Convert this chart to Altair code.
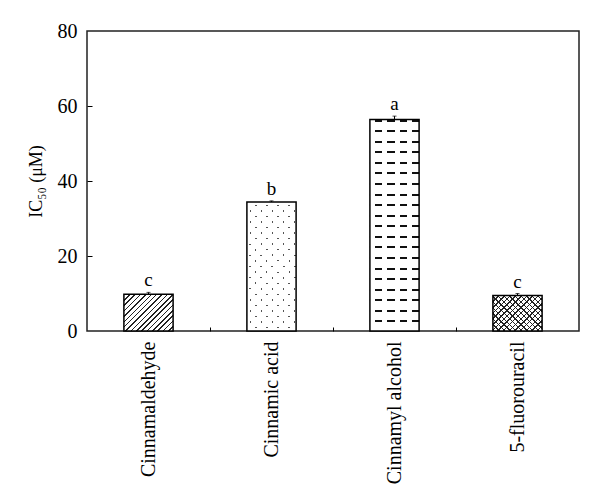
import math
import altair as alt
import pandas as pd

# ---- data ----
names = ["Cinnamaldehyde", "Cinnamic acid", "Cinnamyl alcohol", "5-fluorouracil"]
values = [9.8, 34.4, 56.4, 9.5]
errors = [0.5, 0.3, 0.9, 0.5]
letters = ["c", "b", "a", "c"]
y_ticks = [0, 20, 40, 60, 80]

df = pd.DataFrame({"name": names, "value": values, "err": errors, "letter": letters})
df["top"] = df["value"] + df["err"]

# ---- layout / style ----
PLOT_W, PLOT_H = 492, 300
Y_MAX = 80
PAD_IN, PAD_OUT = 0.6, 0.3
STEP = PLOT_W / (len(names) - PAD_IN + 2 * PAD_OUT)
BAR_W = STEP * (1 - PAD_IN)
PX = PLOT_H / Y_MAX
FONT = "Liberation Serif"
CLEAR = "rgba(255,255,255,0)"


def stripe_stops(n, frac, on, off):
    s = []
    for i in range(n):
        a, b, c = i / n, (i + frac) / n, (i + 1) / n
        s += [alt.GradientStop(offset=round(a, 5), color=on),
              alt.GradientStop(offset=round(b, 5), color=on),
              alt.GradientStop(offset=round(b, 5), color=off),
              alt.GradientStop(offset=round(c, 5), color=off)]
    return s


def diagonal(w, h, spacing, thick, on, off, rising=True):
    c = (w + h) / (w * w + h * h)
    n = max(1, round((w + h) / math.sqrt(2) / spacing))
    st = stripe_stops(n, thick / spacing, on, off)
    if rising:
        return alt.LinearGradient(gradient="linear", stops=st, x1=0, y1=0, x2=c * w, y2=c * h)
    return alt.LinearGradient(gradient="linear", stops=st, x1=0, y1=1, x2=c * w, y2=1 - c * h)


def horizontal(h, spacing, thick, on, off):
    n = max(1, round(h / spacing))
    return alt.LinearGradient(gradient="linear", stops=stripe_stops(n, thick * n / h, on, off),
                              x1=0, y1=0, x2=0, y2=1)


def vertical(w, spacing, thick, on, off):
    n = max(1, round(w / spacing))
    return alt.LinearGradient(gradient="linear", stops=stripe_stops(n, thick * n / w, on, off),
                              x1=0, y1=0, x2=1, y2=0)


hs = [v * PX for v in values]
fills = {
    names[0]: [diagonal(BAR_W, hs[0], 3.9, 1.1, "#222", "white", True)],
    names[1]: [diagonal(BAR_W, hs[1], 7.8, 1.4, "#555", "white", True),
               diagonal(BAR_W, hs[1], 7.8, 1.4, CLEAR, "white", False)],
    names[2]: [horizontal(hs[2], 10.6, 2.0, "#111", "white"),
               vertical(BAR_W, 12.3, 5.0, "white", CLEAR)],
    names[3]: [diagonal(BAR_W, hs[3], 3.9, 1.0, "#222", "white", True),
               diagonal(BAR_W, hs[3], 3.9, 1.0, "#222", CLEAR, False)],
}

x_none = alt.X("name:N", sort=names, axis=None)
y_none = alt.Y("value:Q", axis=None)

base = alt.Chart(df)

pattern_layers = []
for nm in names:
    for g in fills[nm]:
        pattern_layers.append(
            base.transform_filter(alt.datum.name == nm)
            .mark_bar(fill=g, strokeWidth=0)
            .encode(x=x_none, y=y_none)
        )

outline = base.mark_bar(filled=False, stroke="black", strokeWidth=1.5).encode(
    x=alt.X("name:N", sort=names, title=None,
            scale=alt.Scale(paddingInner=PAD_IN, paddingOuter=PAD_OUT),
            axis=alt.Axis(labelAngle=-90, labelFont=FONT, labelFontSize=20, labelColor="black",
                          labelPadding=10, ticks=False, domain=False, grid=False)),
    y=alt.Y("value:Q", title="IC₅₀ (μM)",
            scale=alt.Scale(domain=[0, Y_MAX], nice=False),
            axis=alt.Axis(values=y_ticks, ticks=False, domain=False, grid=False,
                          labelFont=FONT, labelFontSize=20, labelColor="black", labelPadding=10,
                          titleFont=FONT, titleFontSize=18, titleFontWeight="normal",
                          titleColor="black", titlePadding=12)),
)

err_rule = base.mark_rule(color="black", strokeWidth=1).encode(
    x=alt.X("name:N", sort=names, title=None,
            axis=alt.Axis(orient="bottom", labels=False, domain=False, grid=False,
                          values=names[:3], tickSize=4, tickOffset=STEP / 2, offset=-4,
                          tickColor="black", tickWidth=1, title=None)),
    y=alt.Y("value:Q", title=None,
            axis=alt.Axis(orient="left", values=y_ticks[1:-1], labels=False, domain=False,
                          grid=False, tickSize=5, offset=-5, tickColor="black", tickWidth=1,
                          title=None)),
    y2="top:Q",
)

caps = base.mark_tick(orient="horizontal", size=4, thickness=1, color="black").encode(
    x=x_none, y=alt.Y("top:Q", axis=None)
)

labels = base.mark_text(baseline="alphabetic", dy=-6, font=FONT, fontSize=19, color="black").encode(
    x=x_none, y=alt.Y("top:Q", axis=None), text="letter:N"
)

chart = (
    alt.layer(*pattern_layers, outline, err_rule, caps, labels)
    .resolve_axis(x="independent", y="independent")
    .properties(
        width=PLOT_W, height=PLOT_H,
        autosize=alt.AutoSizeParams(type="none"),
        padding={"left": 79, "top": 23, "right": 10, "bottom": 160},
        background="white",
    )
    .configure_view(stroke="#222", strokeWidth=1.5)
)

chart.save("out.html", embed_options={"renderer": "svg", "actions": False})
